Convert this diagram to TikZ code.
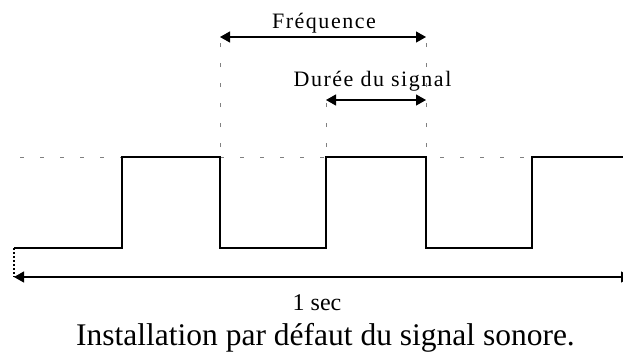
\documentclass[tikz,border=0pt]{standalone}
\usepackage{fontspec}
\setmainfont{Liberation Serif}
\newfontfamily\lblfont[LetterSpace=7]{Liberation Serif}
\usepackage{tikz}
\usetikzlibrary{arrows.meta,positioning,calc}
\definecolor{sgLine}{HTML}{000000}
\definecolor{sgGuide}{HTML}{808080}

\begin{document}
\begin{tikzpicture}[
  x=1pt,y=-1pt,
  wave/.style={draw=sgLine,line width=1.6pt,line join=miter},
  guide/.style={draw=sgGuide,line width=1pt,dash pattern=on 4pt off 16pt},
  lbl/.style={font=\fontsize{22}{25}\lblfont,anchor=base,inner sep=0pt},
  dim/.style={{Triangle[length=10pt,width=11pt]}-{Triangle[length=10pt,width=11pt]},draw=sgLine,line width=1.2pt}
]
\useasboundingbox (0,0) rectangle (623,354);
% signal levels
\coordinate (s0) at (14,248);
\coordinate (r1) at (122,157); \coordinate (f1) at (220,157);
\coordinate (r2) at (326,157); \coordinate (f2) at (426,157);
\coordinate (r3) at (532,157); \coordinate (send) at (623,157);

\draw[guide] (20,157) -- (r3);
\draw[guide,dash phase=10pt] (f1) -- (220,37);
\draw[guide,dash phase=10pt] (f2) -- (426,37);
\draw[guide,dash phase=10pt] (r2) -- (326,100);

\draw[wave] (s0) -| (r1) -- (f1) |- (r2 |- s0) -- (r2) -- (f2) |- (r3 |- s0) -- (r3) -- (send);

\draw[dim] (220,37) coordinate (fa) -- (426,37) coordinate (fb);
\node[lbl] (freq) at (324,28) {Fréquence};
\draw[dim] (326,100) coordinate (da) -- (426,100) coordinate (db);
\node[lbl] (duree) at (372.5,86) {Durée du signal};

\draw[sgLine,line width=1.2pt,dash pattern=on 2pt off 2pt] (s0) -- (14,277);
\draw[dim] (14,277) coordinate (ta) -- (631,277) coordinate (tb);
\node[font=\fontsize{24}{28}\selectfont,anchor=base,inner sep=0pt] (sec) at (317,310) {1 sec};
\node[font=\fontsize{31.5}{36}\selectfont,anchor=base,inner sep=0pt] (cap) at (325.5,345) {Installation par défaut du signal sonore.};
\end{tikzpicture}
\end{document}
